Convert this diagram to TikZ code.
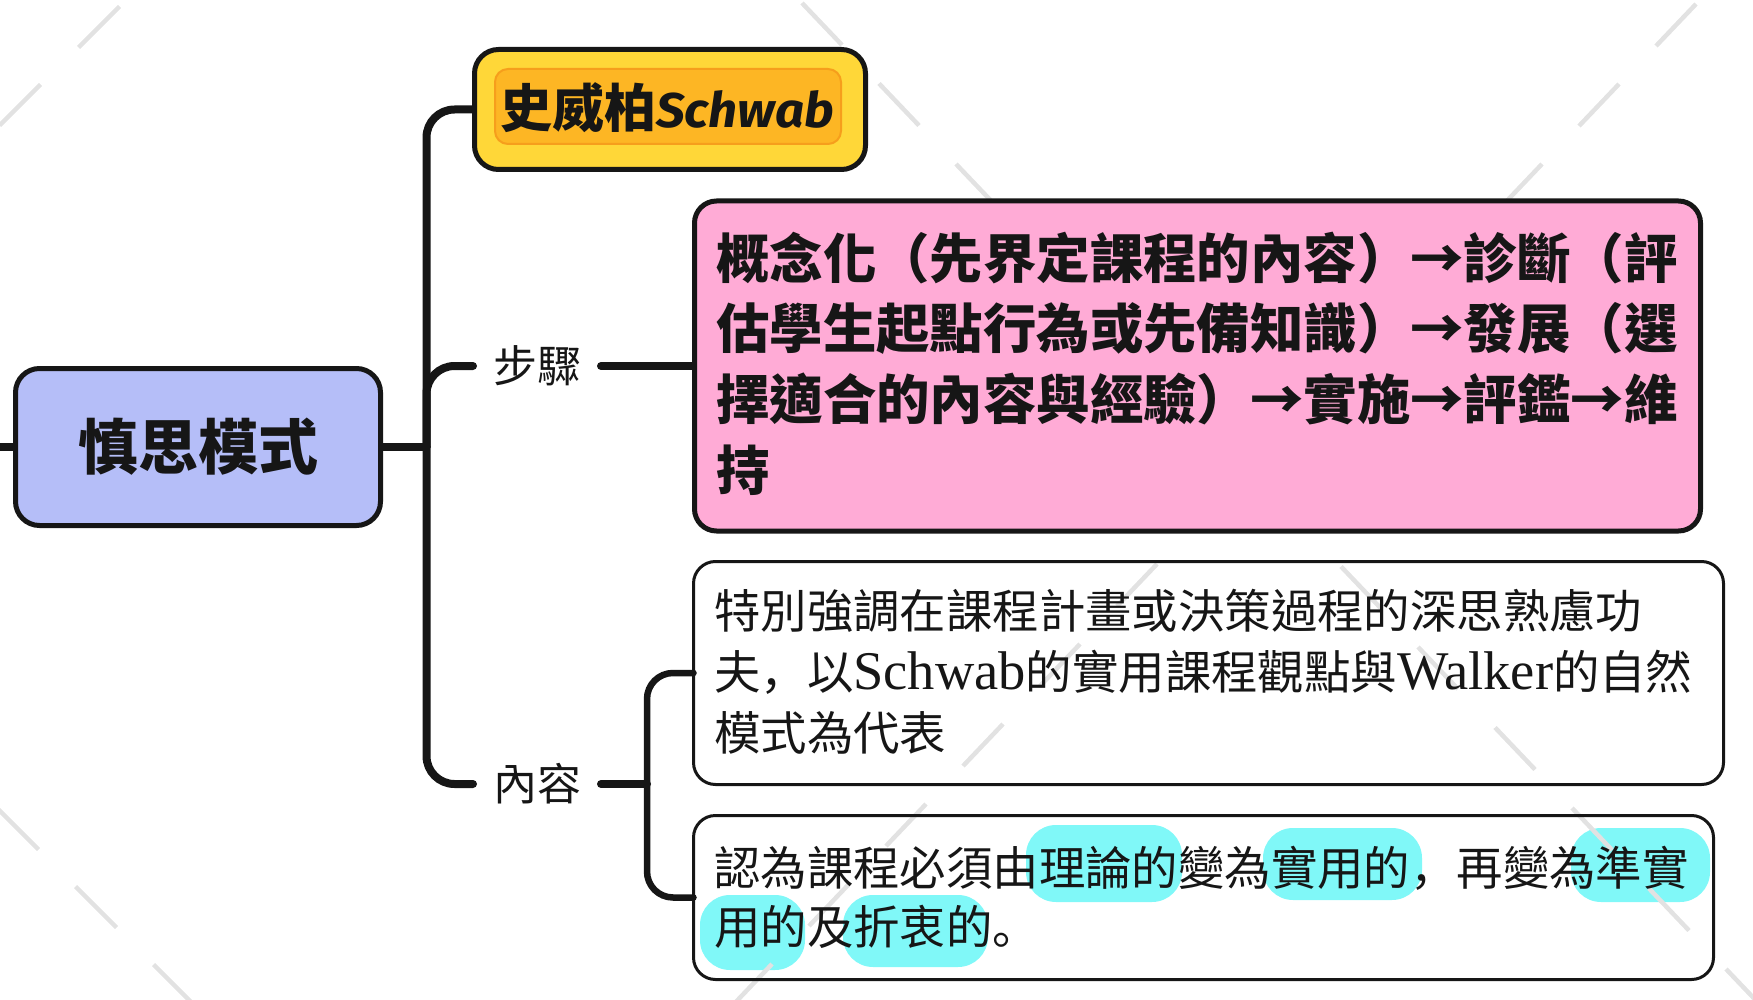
\documentclass[tikz,border=0pt]{standalone}
\usepackage{fontspec}
\setmainfont{Noto Sans CJK TC}
\newfontfamily\scp{Noto Sans CJK SC}
\newfontfamily\lserif{Liberation Serif}
\newfontfamily\hand{Fira Sans}
\usetikzlibrary{backgrounds}
\definecolor{rootfill}{RGB}{181,190,248}
\definecolor{pinkfill}{RGB}{255,171,214}
\definecolor{yelfill}{RGB}{255,215,56}
\definecolor{orgfill}{RGB}{253,182,36}
\definecolor{orgline}{RGB}{246,158,28}
\definecolor{hl}{RGB}{128,248,248}
\definecolor{dashgray}{RGB}{226,226,226}
\definecolor{ink}{RGB}{22,22,22}
\begin{document}
\begin{tikzpicture}[x=1pt,y=-1pt,
  boxbase/.style={rectangle, inner sep=0pt, outer sep=0pt},
  rootbox/.style={boxbase, draw=ink, line width=5pt, fill=rootfill, rounded corners=24pt,
     minimum width=365pt, minimum height=157pt, text=ink,
     font=\fontsize{60}{60}\selectfont\bfseries},
  pinkbox/.style={boxbase, draw=ink, line width=5pt, fill=pinkfill, rounded corners=22pt,
     minimum width=1006pt, minimum height=330pt},
  yelbox/.style={boxbase, draw=ink, line width=5pt, fill=yelfill, rounded corners=24pt,
     minimum width=391pt, minimum height=120pt},
  orgbox/.style={boxbase, draw=orgline, line width=2pt, fill=orgfill, rounded corners=13pt,
     minimum width=346pt, minimum height=75pt},
  whitebox/.style={boxbase, draw=ink, line width=3pt, rounded corners=22pt},
  lbl/.style={inner xsep=20pt, inner ysep=0pt, outer sep=0pt, text=ink,
     font=\fontsize{44}{44}\selectfont},
  pinktxt/.style={anchor=base west, inner sep=0pt, text=ink,
     font=\fontsize{53.4}{53.4}\selectfont\bfseries},
  wtxt/.style={anchor=base west, inner sep=0pt, text=ink,
     font=\fontsize{46.4}{46.4}\selectfont},
  conn/.style={draw=ink, line width=8pt, line cap=round, rounded corners=28pt},
  subconn/.style={draw=ink, line width=6.5pt, line cap=round, rounded corners=26pt},
  hlight/.style={fill=hl, rounded corners=30pt},
  bgdash/.style={draw=dashgray, line width=4.5pt}
]
\useasboundingbox (0,0) rectangle (1753,1000);

% boxes
\node[rootbox] (root) at (198,447) {慎思模式};
\node[yelbox] (yellow) at (670,109.5) {};
\node[orgbox] (orange) at (668,106.5) {};
\node[anchor=base west, inner sep=0pt, text=ink] (ytxt) at (500,128)
  {\fontsize{52}{52}\selectfont\bfseries 史威柏\resizebox{178pt}{37pt}{\hand\bfseries\itshape Schwab}};
\node[pinkbox] (pink) at (1197.5,366) {};
\node[whitebox, minimum width=1030pt, minimum height=223pt] (w1) at (1208.5,673) {};
\node[whitebox, minimum width=1020pt, minimum height=164pt] (w2) at (1203.5,897.5) {};

% labels
\node[lbl] (lab1) at (537,366) {步驟};
\node[lbl] (lab2) at (537,784) {內容};

% pink text
\node[pinktxt] (p1) at (716,278.1) {概念化（先界定課程的內容）→診斷（評};
\node[pinktxt] (p2) at (716,348.8) {估學生起點行為或先備知識）→發展（選};
\node[pinktxt] (p3) at (716,419.5) {擇適合的內容與經驗）→實施→評鑑→維};
\node[pinktxt] (p4) at (716,490.2) {持};

% white box 1 text
\node[wtxt] (w1a) at (714,628.6) {特別強調在課程計畫或決策過程的深思熟慮功};
\node[wtxt] (w1b) at (714,689.6) {夫{\scp ，}以{\lserif\fontsize{54.5}{54.5}\selectfont Schwab}的實用課程觀點與{\lserif\fontsize{54.5}{54.5}\selectfont Walker}的自然};
\node[wtxt] (w1c) at (714,750.6) {模式為代表};

% white box 2 text
\node[wtxt] (w2a) at (714,885) {認為課程必須由理論的變為實用的{\scp ，}再變為準實};
\node[wtxt] (w2b) at (714,944) {用的及折衷的{\scp 。}};

\coordinate (stub) at (-8,447);
\coordinate (tr) at (426.5,447);
\coordinate (st) at (647,784);

\begin{scope}[on background layer]
  % highlights
  \fill[hlight] (1026,825) rectangle (1182,902);
  \fill[hlight] (1263,828) rectangle (1422,900);
  \fill[hlight] (1571,828) rectangle (1710,902);
  \fill[hlight] (700,895) rectangle (805,970);
  \fill[hlight] (843,895) rectangle (988,967);
  % background dashes
  \foreach \k in {0,...,12} {
    \draw[bgdash] ({1676-77*\k+20},{25+80*\k-21}) -- ({1676-77*\k-20},{25+80*\k+21});
    \draw[bgdash] ({822+77*\k-20},{24+80.5*\k-21}) -- ({822+77*\k+20},{24+80.5*\k+21});
  }
  \draw[bgdash] (119.5,6.5) -- (78.5,47.5);
  \draw[bgdash] (40.5,84.5) -- (-0.5,125.5);
  \foreach \k in {0,1,2} {
    \draw[bgdash] ({18+78*\k-20.5},{829+78*\k-20.5}) -- ({18+78*\k+20.5},{829+78*\k+20.5});
  }
  % connectors
  \draw[conn] (stub) -- (root.west);
  \draw[conn] (root.east) -- (tr);
  \draw[conn] (tr) |- (yellow.west);
  \draw[conn] (tr) |- (lab1.west);
  \draw[conn] (tr) |- (lab2.west);
  \draw[conn] (lab1.east) -- (pink.west);
  \draw[conn] (lab2.east) -- (st);
  \draw[subconn] (st) |- (w1.west);
  \draw[subconn] (st) |- (w2.west);
\end{scope}
\end{tikzpicture}
\end{document}
